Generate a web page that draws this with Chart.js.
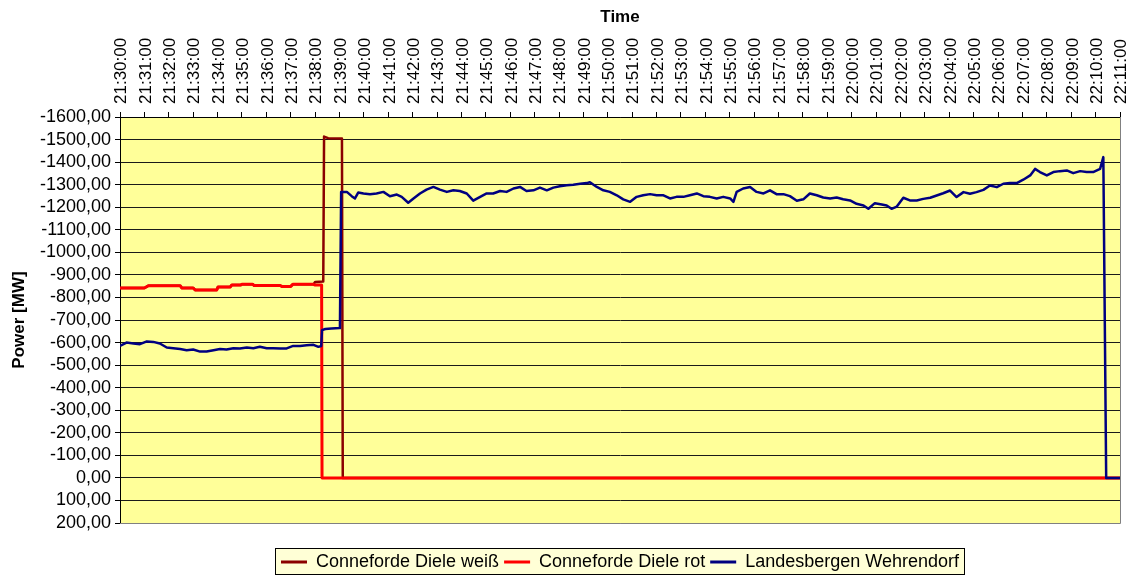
<!DOCTYPE html>
<html>
<head>
<meta charset="utf-8">
<title>Power</title>
<script src="https://cdn.jsdelivr.net/npm/chart.js@4.4.1/dist/chart.umd.min.js"></script>
<style>
  html, body { margin: 0; padding: 0; background: #fff; }
  canvas { display: block; }
</style>
</head>
<body>
<canvas id="chart" width="1134" height="577"></canvas>
<script>
// times are seconds after 21:30:00, values in MW
const START_SEC = 21 * 3600 + 30 * 60;
const X_MAX = 2460;
const Y_MIN = -1600;
const Y_MAX = 200;

const weissTime = [0, 60, 70, 148, 152, 180, 185, 238, 241, 271, 275, 297, 300, 326, 330, 394, 398, 420, 425, 476, 480, 500, 502, 512, 546, 548, 2460];
const weissMW = [-842, -842, -852, -852, -842, -842, -833, -833, -846, -846, -855, -855, -859, -859, -853, -853, -849, -849, -858, -858, -869, -871, -1513, -1506, -1505, 0, 0];

const rotTime = [0, 60, 70, 148, 152, 180, 185, 238, 241, 271, 275, 297, 300, 326, 330, 394, 398, 420, 425, 476, 480, 496, 497, 2460];
const rotMW = [-842, -842, -852, -852, -842, -842, -833, -833, -846, -846, -855, -855, -859, -859, -853, -853, -849, -849, -858, -858, -855, -855, 0, 0];

const wehrTime = [
  0, 16, 33, 49, 66, 82, 98, 115, 131, 148, 164, 180, 197, 213, 230, 246, 262, 279, 295, 312,
  328, 344, 361, 377, 394, 410, 426, 443, 459, 476, 488, 495, 497, 505, 520, 541, 544, 558, 570, 578,
  586, 599, 615, 631, 648, 664, 681, 693, 709, 722, 738, 754, 771, 787, 804, 820, 836, 853, 869, 886,
  902, 918, 935, 951, 968, 984, 1000, 1017, 1033, 1050, 1066, 1082, 1099, 1115, 1132, 1148, 1156, 1164, 1173, 1189,
  1205, 1222, 1238, 1255, 1271, 1287, 1304, 1320, 1337, 1353, 1369, 1386, 1402, 1419, 1435, 1451, 1468, 1484, 1501, 1509,
  1517, 1533, 1550, 1566, 1583, 1599, 1615, 1632, 1648, 1665, 1681, 1697, 1714, 1730, 1747, 1763, 1779, 1796, 1812, 1829,
  1841, 1857, 1874, 1886, 1898, 1911, 1927, 1943, 1960, 1976, 1993, 2009, 2025, 2042, 2058, 2075, 2091, 2107, 2124, 2140,
  2157, 2173, 2189, 2206, 2222, 2239, 2251, 2263, 2280, 2296, 2312, 2329, 2345, 2362, 2378, 2394, 2411, 2419, 2426, 2460,
];
const wehrMW = [
  -585, -600, -596, -593, -605, -603, -596, -578, -575, -571, -566, -569, -560, -560, -566, -571, -569, -575, -574, -578,
  -575, -581, -575, -575, -574, -574, -585, -585, -588, -590, -581, -585, -655, -660, -662, -664, -1268, -1268, -1249, -1239,
  -1265, -1261, -1258, -1261, -1268, -1249, -1256, -1246, -1220, -1239, -1261, -1278, -1290, -1278, -1268, -1275, -1272, -1261, -1229, -1246,
  -1261, -1261, -1272, -1268, -1283, -1290, -1272, -1275, -1287, -1275, -1287, -1293, -1297, -1300, -1304, -1307, -1311, -1301, -1290, -1275,
  -1268, -1253, -1235, -1224, -1246, -1253, -1258, -1253, -1253, -1239, -1246, -1246, -1253, -1261, -1249, -1246, -1239, -1246, -1239, -1224,
  -1268, -1283, -1290, -1268, -1261, -1275, -1258, -1258, -1249, -1229, -1235, -1261, -1253, -1243, -1239, -1243, -1235, -1230, -1215, -1208,
  -1193, -1218, -1212, -1208, -1193, -1203, -1242, -1230, -1230, -1237, -1242, -1252, -1262, -1274, -1245, -1267, -1260, -1267, -1277, -1296,
  -1289, -1304, -1307, -1307, -1322, -1341, -1370, -1356, -1341, -1356, -1360, -1363, -1351, -1360, -1356, -1356, -1370, -1422, 0, 0,
];

function points(times, values) {
  return times.map((t, i) => ({ x: t, y: values[i] }));
}

function clock(sec) {
  const s = START_SEC + sec;
  const pad = (n) => String(n).padStart(2, "0");
  return `${pad(Math.floor(s / 3600))}:${pad(Math.floor((s % 3600) / 60))}:${pad(s % 60)}`;
}

Chart.defaults.font.family = "'Liberation Sans', Arial, sans-serif";
Chart.defaults.font.size = 17;
Chart.defaults.color = "#000";

const frame = {
  id: "frame",
  beforeDraw(chart) {
    const { ctx, chartArea: a } = chart;
    ctx.save();
    ctx.fillStyle = "#ffff99";
    ctx.fillRect(a.left, a.top, a.right - a.left, a.bottom - a.top);

    // box round the legend
    const boxes = chart.legend.legendHitBoxes || [];
    if (boxes.length) {
      const first = boxes[0];
      const last = boxes[boxes.length - 1];
      const l = Math.round(first.left - 6) + 0.5;
      const r = Math.round(last.left + last.width + 5) + 0.5;
      const t = Math.round(first.top - 5) + 0.5;
      const b = Math.round(first.top + first.height + 3) + 0.5;
      ctx.fillStyle = "#ffffd6";
      ctx.fillRect(l, t, r - l, b - t);
      ctx.strokeStyle = "#000";
      ctx.lineWidth = 1;
      ctx.strokeRect(l, t, r - l, b - t);
    }
    ctx.restore();
  },
  beforeDatasetsDraw(chart) {
    const { ctx, chartArea: a } = chart;
    ctx.save();
    ctx.strokeStyle = "#808080";
    ctx.lineWidth = 1;
    ctx.beginPath();
    ctx.moveTo(a.right + 0.5, a.top);
    ctx.lineTo(a.right + 0.5, a.bottom + 0.5);
    ctx.lineTo(a.left, a.bottom + 0.5);
    ctx.stroke();
    ctx.restore();
  },
};

const defaultLabels = Chart.defaults.plugins.legend.labels.generateLabels;

new Chart(document.getElementById("chart"), {
  type: "line",
  data: {
    datasets: [
      {
        label: "Conneforde Diele weiß",
        data: points(weissTime, weissMW),
        borderColor: "#8b0000",
        borderWidth: 2.5,
        order: 2,
      },
      {
        label: "Conneforde Diele rot",
        data: points(rotTime, rotMW),
        borderColor: "#ff0000",
        borderWidth: 3,
        order: 1,
      },
      {
        label: "Landesbergen Wehrendorf",
        data: points(wehrTime, wehrMW),
        borderColor: "#000080",
        borderWidth: 2.5,
        order: 0,
      },
    ],
  },
  options: {
    responsive: false,
    animation: false,
    events: [],
    elements: {
      point: { radius: 0 },
      line: { tension: 0, borderJoinStyle: "round" },
    },
    layout: { padding: { left: 0, right: 14, top: 0, bottom: -4 } },
    scales: {
      x: {
        type: "linear",
        position: "top",
        min: 0,
        max: X_MAX,
        afterFit: (scale) => { scale.height = 117; },
        title: {
          display: true,
          text: "Time",
          font: { size: 17, weight: "bold" },
          padding: { top: 7, bottom: 0 },
        },
        ticks: {
          stepSize: 60,
          autoSkip: false,
          minRotation: 90,
          maxRotation: 90,
          padding: 8,
          labelOffset: 22,
          callback: (v) => clock(v),
        },
        grid: {
          drawOnChartArea: false,
          tickLength: 5,
          tickColor: "#000",
        },
        border: { display: true, color: "#000", width: 1 },
      },
      y: {
        type: "linear",
        reverse: true,
        min: Y_MIN,
        max: Y_MAX,
        afterFit: (scale) => { scale.width = 120; },
        title: {
          display: true,
          text: "Power [MW]",
          font: { size: 17, weight: "bold" },
          padding: { top: 9, bottom: 0 },
        },
        ticks: {
          stepSize: 100,
          autoSkip: false,
          padding: 4,
          font: { size: 18 },
          callback: (v) => v.toFixed(2).replace(".", ","),
        },
        grid: {
          color: (c) => (c.tick && c.tick.value === Y_MAX ? "#808080" : "#1a1a1a"),
          tickColor: "#000",
          tickLength: 5,
        },
        border: { display: true, color: "#000", width: 1 },
      },
    },
    plugins: {
      tooltip: { enabled: false },
      legend: {
        position: "bottom",
        fullSize: false,
        title: {
          display: true,
          text: "",
          font: { size: 10 },
          padding: { top: 13, bottom: 0 },
        },
        labels: {
          usePointStyle: true,
          pointStyle: "line",
          pointStyleWidth: 26,
          padding: 5,
          font: { size: 18 },
          color: "#000",
          sort: (a, b) => a.datasetIndex - b.datasetIndex,
          generateLabels: (chart) =>
            defaultLabels(chart).map((item) => ({ ...item, lineWidth: 3 })),
        },
      },
    },
  },
  plugins: [frame],
});
</script>
</body>
</html>
